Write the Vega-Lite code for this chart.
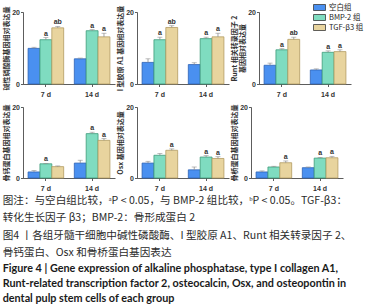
{
 "$schema": "https://vega.github.io/schema/vega-lite/v6.json",
 "padding": {"left": 2, "top": 3, "right": 0, "bottom": 0},
 "background": "white",
 "datasets": {
  "bars": [
   {"gene": "ALP", "day": "7 d", "group": "空白组", "value": 9.9, "top": 10.2, "label": ""},
   {"gene": "ALP", "day": "7 d", "group": "BMP-2 组", "value": 12.3, "top": 12.9, "label": "a"},
   {"gene": "ALP", "day": "7 d", "group": "TGF-β3 组", "value": 15.6, "top": 16.0, "label": "ab"},
   {"gene": "ALP", "day": "14 d", "group": "空白组", "value": 7.0, "top": 7.2, "label": ""},
   {"gene": "ALP", "day": "14 d", "group": "BMP-2 组", "value": 14.8, "top": 15.1, "label": "a"},
   {"gene": "ALP", "day": "14 d", "group": "TGF-β3 组", "value": 13.1, "top": 14.1, "label": "a"},
   {"gene": "COL", "day": "7 d", "group": "空白组", "value": 6.0, "top": 7.0, "label": ""},
   {"gene": "COL", "day": "7 d", "group": "BMP-2 组", "value": 12.3, "top": 13.0, "label": "a"},
   {"gene": "COL", "day": "7 d", "group": "TGF-β3 组", "value": 15.7, "top": 16.2, "label": "ab"},
   {"gene": "COL", "day": "14 d", "group": "空白组", "value": 5.4, "top": 5.9, "label": ""},
   {"gene": "COL", "day": "14 d", "group": "BMP-2 组", "value": 12.6, "top": 13.0, "label": "a"},
   {"gene": "COL", "day": "14 d", "group": "TGF-β3 组", "value": 13.1, "top": 14.1, "label": "a"},
   {"gene": "RUNX", "day": "7 d", "group": "空白组", "value": 5.2, "top": 5.8, "label": ""},
   {"gene": "RUNX", "day": "7 d", "group": "BMP-2 组", "value": 9.5, "top": 9.8, "label": "a"},
   {"gene": "RUNX", "day": "7 d", "group": "TGF-β3 组", "value": 12.4, "top": 13.0, "label": "ab"},
   {"gene": "RUNX", "day": "14 d", "group": "空白组", "value": 3.9, "top": 4.2, "label": ""},
   {"gene": "RUNX", "day": "14 d", "group": "BMP-2 组", "value": 8.8, "top": 9.2, "label": "a"},
   {"gene": "RUNX", "day": "14 d", "group": "TGF-β3 组", "value": 9.0, "top": 9.5, "label": "a"},
   {"gene": "OCN", "day": "7 d", "group": "空白组", "value": 1.7, "top": 2.1, "label": ""},
   {"gene": "OCN", "day": "7 d", "group": "BMP-2 组", "value": 4.0, "top": 4.1, "label": "a"},
   {"gene": "OCN", "day": "7 d", "group": "TGF-β3 组", "value": 3.2, "top": 3.4, "label": ""},
   {"gene": "OCN", "day": "14 d", "group": "空白组", "value": 4.2, "top": 5.0, "label": ""},
   {"gene": "OCN", "day": "14 d", "group": "BMP-2 组", "value": 12.5, "top": 12.9, "label": "a"},
   {"gene": "OCN", "day": "14 d", "group": "TGF-β3 组", "value": 10.6, "top": 11.1, "label": "a"},
   {"gene": "OSX", "day": "7 d", "group": "空白组", "value": 4.2, "top": 4.7, "label": ""},
   {"gene": "OSX", "day": "7 d", "group": "BMP-2 组", "value": 6.4, "top": 6.9, "label": ""},
   {"gene": "OSX", "day": "7 d", "group": "TGF-β3 组", "value": 7.8, "top": 8.2, "label": "a"},
   {"gene": "OSX", "day": "14 d", "group": "空白组", "value": 2.3, "top": 3.1, "label": ""},
   {"gene": "OSX", "day": "14 d", "group": "BMP-2 组", "value": 5.9, "top": 6.3, "label": "a"},
   {"gene": "OSX", "day": "14 d", "group": "TGF-β3 组", "value": 5.5, "top": 6.0, "label": "a"},
   {"gene": "OPN", "day": "7 d", "group": "空白组", "value": 1.7, "top": 2.0, "label": ""},
   {"gene": "OPN", "day": "7 d", "group": "BMP-2 组", "value": 3.1, "top": 3.3, "label": ""},
   {"gene": "OPN", "day": "7 d", "group": "TGF-β3 组", "value": 4.3, "top": 4.8, "label": "a"},
   {"gene": "OPN", "day": "14 d", "group": "空白组", "value": 2.9, "top": 3.1, "label": ""},
   {"gene": "OPN", "day": "14 d", "group": "BMP-2 组", "value": 5.6, "top": 5.8, "label": "a"},
   {"gene": "OPN", "day": "14 d", "group": "TGF-β3 组", "value": 5.7, "top": 6.1, "label": "a"}
  ]
 },
 "data": {"name": "bars"},
 "config": {
  "view": {"stroke": null},
  "axis": {"grid": false, "domainColor": "#333", "tickColor": "#333", "domainWidth": 0.8, "tickWidth": 0.8, "tickSize": 2.5,
           "labelFont": "Liberation Sans", "labelFontSize": 7, "labelFontWeight": "bold", "labelColor": "#333", "labelPadding": 1,
           "titleFont": "Noto Sans CJK SC", "titleFontSize": 7, "titleFontWeight": "bold", "titleColor": "#333", "titlePadding": 2},
  "axisX": {"labelAngle": 0, "labelPadding": 4}
 },
 "title": {
  "text": ["图注：与空白组比较，ᵃP < 0.05，与 BMP-2 组比较，ᵇP < 0.05。TGF-β3：", "转化生长因子 β3；BMP-2：骨形成蛋白 2", "图4 丨各组牙髓干细胞中碱性磷酸酶、I 型胶原 A1、Runt 相关转录因子 2、", "骨钙蛋白、Osx 和骨桥蛋白基因表达"],
  "subtitle": ["Figure 4  |  Gene expression of alkaline phosphatase, type I collagen A1,", "Runt-related transcription factor 2, osteocalcin, Osx, and osteopontin in", "dental pulp stem cells of each group"],
  "orient": "bottom", "anchor": "start", "frame": "bounds", "offset": 4,
  "font": "Noto Sans CJK SC", "fontSize": 10.6, "fontWeight": "normal", "color": "#2b2b2b", "lineHeight": 17.5,
  "subtitleFont": "Lato", "subtitleFontSize": 10.8, "subtitleFontWeight": "bold", "subtitleColor": "#1a1a1a", "subtitleLineHeight": 15.4, "subtitlePadding": 4
 },
 "spacing": 5,
 "vconcat": [
  {"spacing": 1, "hconcat": [
   {"width": 92, "height": 72, "transform": [{"filter": "datum.gene === 'ALP'"}],
    "encoding": {
     "x": {"field": "day", "type": "nominal", "sort": ["7 d", "14 d"], "title": null, "scale": {"paddingInner": 0.23, "paddingOuter": 0.11}},
     "xOffset": {"field": "group", "type": "nominal", "sort": ["空白组", "BMP-2 组", "TGF-β3 组"], "scale": {"paddingInner": 0, "paddingOuter": 0}}
    },
    "layer": [
     {"mark": {"type": "bar", "strokeWidth": 0.8}, "encoding": {
       "y": {"field": "value", "type": "quantitative", "scale": {"domain": [0, 20], "nice": false}, "axis": {"title": "碱性磷酸酶基因相对表达量", "values": [0, 5, 10, 15, 20]}},
       "fill": {"field": "group", "type": "nominal", "sort": ["空白组", "BMP-2 组", "TGF-β3 组"], "scale": {"range": ["#4a90f0", "#7fdcc0", "#e8d49e"]},
                "legend": {"orient": "none", "legendX": 292, "legendY": -9, "title": null, "symbolType": "M-1.5,-0.75H1.5V0.75H-1.5Z", "symbolSize": 64, "symbolStrokeWidth": 0.8, "symbolStrokeColor": "#3a3a3a", "labelFont": "Noto Sans CJK SC", "labelFontSize": 7.5, "labelColor": "#222", "labelOffset": 5, "rowPadding": -3}},
       "stroke": {"field": "group", "type": "nominal", "sort": ["空白组", "BMP-2 组", "TGF-β3 组"], "scale": {"range": ["#2d62b5", "#3d9a78", "#b39c62"]}, "legend": null}
     }},
     {"mark": {"type": "rule", "strokeWidth": 0.8, "color": "#8c8c8c"}, "encoding": {"y": {"field": "value", "type": "quantitative", "scale": {"domain": [0, 20], "nice": false}}, "y2": {"field": "top"}}},
     {"mark": {"type": "tick", "size": 5, "thickness": 0.8, "color": "#8c8c8c"}, "encoding": {"y": {"field": "top", "type": "quantitative", "scale": {"domain": [0, 20], "nice": false}}}},
     {"mark": {"type": "text", "baseline": "bottom", "dy": -1, "fontSize": 7, "fontWeight": "bold", "font": "Liberation Sans", "color": "#333"}, "encoding": {"y": {"field": "top", "type": "quantitative", "scale": {"domain": [0, 20], "nice": false}}, "text": {"field": "label"}}}
    ]},
   {"width": 92, "height": 72, "transform": [{"filter": "datum.gene === 'COL'"}],
    "encoding": {
     "x": {"field": "day", "type": "nominal", "sort": ["7 d", "14 d"], "title": null, "scale": {"paddingInner": 0.23, "paddingOuter": 0.11}},
     "xOffset": {"field": "group", "type": "nominal", "sort": ["空白组", "BMP-2 组", "TGF-β3 组"], "scale": {"paddingInner": 0, "paddingOuter": 0}}
    },
    "layer": [
     {"mark": {"type": "bar", "strokeWidth": 0.8}, "encoding": {
       "y": {"field": "value", "type": "quantitative", "scale": {"domain": [0, 20], "nice": false}, "axis": {"title": "I 型胶原 A1 基因相对表达量", "values": [0, 5, 10, 15, 20]}},
       "fill": {"field": "group", "type": "nominal", "sort": ["空白组", "BMP-2 组", "TGF-β3 组"]},
       "stroke": {"field": "group", "type": "nominal", "sort": ["空白组", "BMP-2 组", "TGF-β3 组"], "legend": null}
     }},
     {"mark": {"type": "rule", "strokeWidth": 0.8, "color": "#8c8c8c"}, "encoding": {"y": {"field": "value", "type": "quantitative", "scale": {"domain": [0, 20], "nice": false}}, "y2": {"field": "top"}}},
     {"mark": {"type": "tick", "size": 5, "thickness": 0.8, "color": "#8c8c8c"}, "encoding": {"y": {"field": "top", "type": "quantitative", "scale": {"domain": [0, 20], "nice": false}}}},
     {"mark": {"type": "text", "baseline": "bottom", "dy": -1, "fontSize": 7, "fontWeight": "bold", "font": "Liberation Sans", "color": "#333"}, "encoding": {"y": {"field": "top", "type": "quantitative", "scale": {"domain": [0, 20], "nice": false}}, "text": {"field": "label"}}}
    ]},
   {"width": 92, "height": 72, "transform": [{"filter": "datum.gene === 'RUNX'"}],
    "encoding": {
     "x": {"field": "day", "type": "nominal", "sort": ["7 d", "14 d"], "title": null, "scale": {"paddingInner": 0.23, "paddingOuter": 0.11}},
     "xOffset": {"field": "group", "type": "nominal", "sort": ["空白组", "BMP-2 组", "TGF-β3 组"], "scale": {"paddingInner": 0, "paddingOuter": 0}}
    },
    "layer": [
     {"mark": {"type": "bar", "strokeWidth": 0.8}, "encoding": {
       "y": {"field": "value", "type": "quantitative", "scale": {"domain": [0, 20], "nice": false}, "axis": {"title": ["Runt 相关转录因子 2", "基因相对表达量"], "titleLineHeight": 8, "values": [0, 5, 10, 15, 20]}},
       "fill": {"field": "group", "type": "nominal", "sort": ["空白组", "BMP-2 组", "TGF-β3 组"]},
       "stroke": {"field": "group", "type": "nominal", "sort": ["空白组", "BMP-2 组", "TGF-β3 组"], "legend": null}
     }},
     {"mark": {"type": "rule", "strokeWidth": 0.8, "color": "#8c8c8c"}, "encoding": {"y": {"field": "value", "type": "quantitative", "scale": {"domain": [0, 20], "nice": false}}, "y2": {"field": "top"}}},
     {"mark": {"type": "tick", "size": 5, "thickness": 0.8, "color": "#8c8c8c"}, "encoding": {"y": {"field": "top", "type": "quantitative", "scale": {"domain": [0, 20], "nice": false}}}},
     {"mark": {"type": "text", "baseline": "bottom", "dy": -1, "fontSize": 7, "fontWeight": "bold", "font": "Liberation Sans", "color": "#333"}, "encoding": {"y": {"field": "top", "type": "quantitative", "scale": {"domain": [0, 20], "nice": false}}, "text": {"field": "label"}}}
    ]}
  ]},
  {"spacing": 1, "hconcat": [
   {"width": 92, "height": 71, "transform": [{"filter": "datum.gene === 'OCN'"}],
    "encoding": {
     "x": {"field": "day", "type": "nominal", "sort": ["7 d", "14 d"], "title": null, "scale": {"paddingInner": 0.23, "paddingOuter": 0.11}},
     "xOffset": {"field": "group", "type": "nominal", "sort": ["空白组", "BMP-2 组", "TGF-β3 组"], "scale": {"paddingInner": 0, "paddingOuter": 0}}
    },
    "layer": [
     {"mark": {"type": "bar", "strokeWidth": 0.8}, "encoding": {
       "y": {"field": "value", "type": "quantitative", "scale": {"domain": [0, 20], "nice": false}, "axis": {"title": "骨钙蛋白基因相对表达量", "values": [0, 5, 10, 15, 20]}},
       "fill": {"field": "group", "type": "nominal", "sort": ["空白组", "BMP-2 组", "TGF-β3 组"]},
       "stroke": {"field": "group", "type": "nominal", "sort": ["空白组", "BMP-2 组", "TGF-β3 组"], "legend": null}
     }},
     {"mark": {"type": "rule", "strokeWidth": 0.8, "color": "#8c8c8c"}, "encoding": {"y": {"field": "value", "type": "quantitative", "scale": {"domain": [0, 20], "nice": false}}, "y2": {"field": "top"}}},
     {"mark": {"type": "tick", "size": 5, "thickness": 0.8, "color": "#8c8c8c"}, "encoding": {"y": {"field": "top", "type": "quantitative", "scale": {"domain": [0, 20], "nice": false}}}},
     {"mark": {"type": "text", "baseline": "bottom", "dy": -1, "fontSize": 7, "fontWeight": "bold", "font": "Liberation Sans", "color": "#333"}, "encoding": {"y": {"field": "top", "type": "quantitative", "scale": {"domain": [0, 20], "nice": false}}, "text": {"field": "label"}}}
    ]},
   {"width": 92, "height": 71, "transform": [{"filter": "datum.gene === 'OSX'"}],
    "encoding": {
     "x": {"field": "day", "type": "nominal", "sort": ["7 d", "14 d"], "title": null, "scale": {"paddingInner": 0.23, "paddingOuter": 0.11}},
     "xOffset": {"field": "group", "type": "nominal", "sort": ["空白组", "BMP-2 组", "TGF-β3 组"], "scale": {"paddingInner": 0, "paddingOuter": 0}}
    },
    "layer": [
     {"mark": {"type": "bar", "strokeWidth": 0.8}, "encoding": {
       "y": {"field": "value", "type": "quantitative", "scale": {"domain": [0, 20], "nice": false}, "axis": {"title": "Osx 基因相对表达量", "values": [0, 5, 10, 15, 20]}},
       "fill": {"field": "group", "type": "nominal", "sort": ["空白组", "BMP-2 组", "TGF-β3 组"]},
       "stroke": {"field": "group", "type": "nominal", "sort": ["空白组", "BMP-2 组", "TGF-β3 组"], "legend": null}
     }},
     {"mark": {"type": "rule", "strokeWidth": 0.8, "color": "#8c8c8c"}, "encoding": {"y": {"field": "value", "type": "quantitative", "scale": {"domain": [0, 20], "nice": false}}, "y2": {"field": "top"}}},
     {"mark": {"type": "tick", "size": 5, "thickness": 0.8, "color": "#8c8c8c"}, "encoding": {"y": {"field": "top", "type": "quantitative", "scale": {"domain": [0, 20], "nice": false}}}},
     {"mark": {"type": "text", "baseline": "bottom", "dy": -1, "fontSize": 7, "fontWeight": "bold", "font": "Liberation Sans", "color": "#333"}, "encoding": {"y": {"field": "top", "type": "quantitative", "scale": {"domain": [0, 20], "nice": false}}, "text": {"field": "label"}}}
    ]},
   {"width": 92, "height": 71, "transform": [{"filter": "datum.gene === 'OPN'"}],
    "encoding": {
     "x": {"field": "day", "type": "nominal", "sort": ["7 d", "14 d"], "title": null, "scale": {"paddingInner": 0.23, "paddingOuter": 0.11}},
     "xOffset": {"field": "group", "type": "nominal", "sort": ["空白组", "BMP-2 组", "TGF-β3 组"], "scale": {"paddingInner": 0, "paddingOuter": 0}}
    },
    "layer": [
     {"mark": {"type": "bar", "strokeWidth": 0.8}, "encoding": {
       "y": {"field": "value", "type": "quantitative", "scale": {"domain": [0, 20], "nice": false}, "axis": {"title": "骨桥蛋白基因相对表达量", "values": [0, 5, 10, 15, 20]}},
       "fill": {"field": "group", "type": "nominal", "sort": ["空白组", "BMP-2 组", "TGF-β3 组"]},
       "stroke": {"field": "group", "type": "nominal", "sort": ["空白组", "BMP-2 组", "TGF-β3 组"], "legend": null}
     }},
     {"mark": {"type": "rule", "strokeWidth": 0.8, "color": "#8c8c8c"}, "encoding": {"y": {"field": "value", "type": "quantitative", "scale": {"domain": [0, 20], "nice": false}}, "y2": {"field": "top"}}},
     {"mark": {"type": "tick", "size": 5, "thickness": 0.8, "color": "#8c8c8c"}, "encoding": {"y": {"field": "top", "type": "quantitative", "scale": {"domain": [0, 20], "nice": false}}}},
     {"mark": {"type": "text", "baseline": "bottom", "dy": -1, "fontSize": 7, "fontWeight": "bold", "font": "Liberation Sans", "color": "#333"}, "encoding": {"y": {"field": "top", "type": "quantitative", "scale": {"domain": [0, 20], "nice": false}}, "text": {"field": "label"}}}
    ]}
  ]}
 ]
}
